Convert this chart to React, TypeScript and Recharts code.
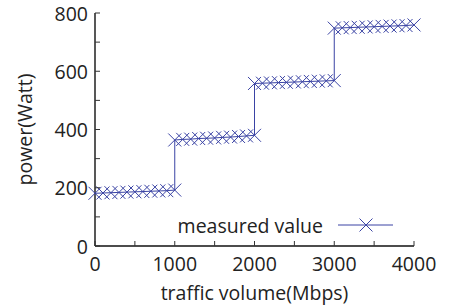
import React from 'react';
import { LineChart, Line, XAxis, YAxis } from 'recharts';

const traffic = [
  0, 100, 200, 300, 400, 500, 600, 700, 800, 900, 1000,
  1000, 1100, 1200, 1300, 1400, 1500, 1600, 1700, 1800, 1900, 2000,
  2000, 2100, 2200, 2300, 2400, 2500, 2600, 2700, 2800, 2900, 3000,
  3000, 3100, 3200, 3300, 3400, 3500, 3600, 3700, 3800, 3900, 4000,
];
const power = [
  181, 182, 183, 184, 185, 186, 187, 188, 189, 190, 192,
  364, 366, 367, 369, 370, 371, 373, 374, 376, 378, 380,
  558, 559, 560, 561, 562, 563, 564, 565, 566, 567, 568,
  748, 749, 750, 751, 752, 753, 754, 755, 756, 757, 759,
];
const xTicks = [0, 500, 1000, 1500, 2000, 2500, 3000, 3500, 4000];
const xLabelTicks = [0, 1000, 2000, 3000, 4000];
const yTicks = [0, 100, 200, 300, 400, 500, 600, 700, 800];
const yLabelTicks = [0, 200, 400, 600, 800];
const seriesName = 'measured value';

const data = traffic.map((t, i) => ({ traffic: t, power: power[i] }));

const COLOR = '#3a43a4';
const FONT = "'Open Sans', sans-serif";
const FS = 19.5;
const TICKC = '#333';
const TL = 5;

const Cross = (props: any) => {
  const { cx, cy, index } = props;
  if (cx == null || cy == null) return <g key={index} />;
  const s = 6.5;
  return (
    <path
      key={index}
      d={`M${cx - s},${cy - s}L${cx + s},${cy + s}M${cx - s},${cy + s}L${cx + s},${cy - s}`}
      stroke={COLOR}
      strokeWidth={1}
      fill="none"
    />
  );
};

const BottomTick = (props: any) => {
  const { x, y, payload } = props;
  const v = payload.value;
  return (
    <g>
      <line x1={x} x2={x} y1={y} y2={y - TL} stroke={TICKC} strokeWidth={1} />
      {xLabelTicks.includes(v) && (
        <text x={x} y={y + 17} textAnchor="middle" dominantBaseline="central" fontFamily={FONT} fontSize={FS} fill="#222">
          {v}
        </text>
      )}
    </g>
  );
};
const TopTick = (props: any) => {
  const { x, y } = props;
  return <line x1={x} x2={x} y1={y} y2={y + TL} stroke={TICKC} strokeWidth={1} />;
};
const LeftTick = (props: any) => {
  const { x, y, payload } = props;
  const v = payload.value;
  return (
    <g>
      <line x1={x} x2={x + TL} y1={y} y2={y} stroke={TICKC} strokeWidth={1} />
      {yLabelTicks.includes(v) && (
        <text x={x - 7} y={y} textAnchor="end" dominantBaseline="central" fontFamily={FONT} fontSize={FS} fill="#222">
          {v}
        </text>
      )}
    </g>
  );
};
const RightTick = (props: any) => {
  const { x, y } = props;
  return <line x1={x} x2={x - TL} y1={y} y2={y} stroke={TICKC} strokeWidth={1} />;
};

const LegendBox = () => (
  <svg width={230} height={26} style={{ position: 'absolute', left: 175, top: 212, pointerEvents: 'none' }}>
    <text x={148} y={13} textAnchor="end" dominantBaseline="central" fontFamily={FONT} fontSize={FS} fill="#222">
      {seriesName}
    </text>
    <line x1={163} x2={218} y1={13} y2={13} stroke={COLOR} strokeWidth={1} />
    <path d="M184.5,6.5L197.5,19.5M184.5,19.5L197.5,6.5" stroke={COLOR} strokeWidth={1} fill="none" />
  </svg>
);

export default function App() {
  return (
    <div style={{ position: 'absolute', left: 0, top: 0, width: 455, height: 307, background: '#fff' }}>
      <LineChart width={455} height={307} data={data} margin={{ top: 13, right: 41, bottom: 0, left: 0 }}>
        <XAxis
          xAxisId="b"
          dataKey="traffic"
          type="number"
          domain={[0, 4000]}
          ticks={xTicks}
          interval={0}
          tickSize={0}
          tickMargin={0}
          tickLine={false}
          tick={<BottomTick />}
          axisLine={{ stroke: '#111', strokeWidth: 1.4 }}
          height={61}
          label={{
            content: (p: any) => (
              <text
                x={p.viewBox.x + p.viewBox.width / 2}
                y={p.viewBox.y + 46}
                textAnchor="middle"
                dominantBaseline="central"
                fontFamily={FONT}
                fontSize={FS}
                fill="#222"
              >
                traffic volume(Mbps)
              </text>
            ),
          }}
        />
        <XAxis
          xAxisId="t"
          orientation="top"
          dataKey="traffic"
          type="number"
          domain={[0, 4000]}
          ticks={xTicks}
          interval={0}
          tickSize={0}
          tickMargin={0}
          tickLine={false}
          tick={<TopTick />}
          axisLine={{ stroke: '#111', strokeWidth: 1.4 }}
          height={0}
        />
        <YAxis
          yAxisId="l"
          type="number"
          domain={[0, 800]}
          ticks={yTicks}
          interval={0}
          tickSize={0}
          tickMargin={0}
          tickLine={false}
          tick={<LeftTick />}
          axisLine={{ stroke: '#111', strokeWidth: 1.4 }}
          width={95}
          label={{
            content: (p: any) => {
              const cx = 24;
              const cy = p.viewBox.y + p.viewBox.height / 2;
              return (
                <text
                  x={cx}
                  y={cy}
                  transform={`rotate(-90 ${cx} ${cy})`}
                  textAnchor="middle"
                  dominantBaseline="central"
                  fontFamily={FONT}
                  fontSize={FS}
                  fill="#222"
                >
                  power(Watt)
                </text>
              );
            },
          }}
        />
        <YAxis
          yAxisId="r"
          orientation="right"
          type="number"
          domain={[0, 800]}
          ticks={yTicks}
          interval={0}
          tickSize={0}
          tickMargin={0}
          tickLine={false}
          tick={<RightTick />}
          axisLine={{ stroke: '#111', strokeWidth: 1.4 }}
          width={0}
        />
        <Line
          xAxisId="b"
          yAxisId="l"
          type="linear"
          dataKey="power"
          name={seriesName}
          stroke={COLOR}
          strokeWidth={1}
          dot={<Cross />}
          activeDot={false}
          isAnimationActive={false}
        />
      </LineChart>
      <LegendBox />
    </div>
  );
}
